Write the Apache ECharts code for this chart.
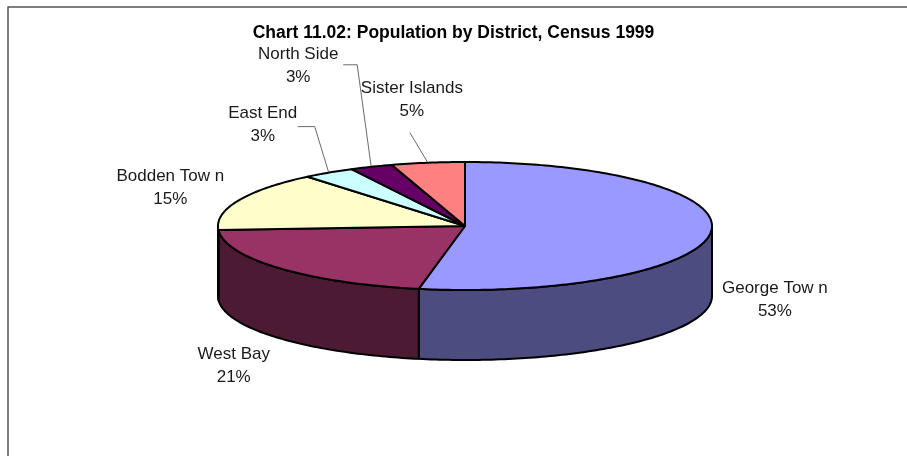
<!DOCTYPE html>
<html><head><meta charset="utf-8">
<script src="https://cdn.jsdelivr.net/npm/echarts@6/dist/echarts.min.js"></script>
<style>html,body{margin:0;padding:0;background:#fff}#c{width:907px;height:456px}</style>
</head><body><div id="c"></div>
<script>
// ---- data ----
const categories = ['George Tow n', 'West Bay', 'Bodden Tow n', 'East End', 'North Side', 'Sister Islands'];
const values = [53.0, 21.0, 15.0, 3.4, 2.8, 4.8];
const topColors = ['#9999FF', '#993366', '#FFFFCC', '#CCFFFF', '#660066', '#FF8080'];
const sideColors = ['#4C4C80', '#4D1A33', '#808066', '#668080', '#330033', '#804040'];
const titleText = 'Chart 11.02: Population by District, Census 1999';

// ---- layout (pixels) ----
const CX = 465, CY = 226, RX = 247, RY = 64, DEPTH = 70;
// label centre offsets from the slice's outer mid point
const labelOffsets = [[64, 33], [-46, 62], [-68, -13], [-66, -48], [-73, -101], [-16, -63]];
// leader line points relative to label centre (null = none)
const leaders = [null, null, null, [[52, 2], [35, 2]], [[59, -1], [45, -1]], [[-2, 33]]];

const total = values.reduce((a, b) => a + b, 0);
const cum = [];
values.reduce((acc, v, i) => { cum[i] = acc; return acc + v; }, 0);

function pt(deg, dy) {
  const r = deg * Math.PI / 180;
  return [CX + RX * Math.sin(r), CY - RY * Math.cos(r) + (dy || 0)];
}
function arc(a, b, dy) {
  const pts = [];
  const n = Math.max(2, Math.ceil(Math.abs(b - a)));
  for (let k = 0; k <= n; k++) pts.push(pt(a + (b - a) * k / n, dy));
  return pts;
}

function renderItem(params, api) {
  const i = params.dataIndex;
  const v = api.value(0);
  const a = cum[i] / total * 360;
  const b = (cum[i] + v) / total * 360;
  const children = [];
  const sa = Math.max(a, 90), sb = Math.min(b, 270);
  if (sb > sa) {
    const top = arc(sa, sb, 0);
    const bot = arc(sb, sa, DEPTH);
    children.push({
      type: 'polygon', z2: 1,
      shape: { points: top.concat(bot) },
      style: { fill: sideColors[i], stroke: '#000', lineWidth: 2, lineJoin: 'round' }
    });
  }
  children.push({
    type: 'polygon', z2: 2,
    shape: { points: [[CX, CY]].concat(arc(a, b, 0)) },
    style: { fill: topColors[i], stroke: '#000', lineWidth: 2, lineJoin: 'round' }
  });
  const mid = (a + b) / 2;
  const front = mid > 90 && mid < 270;
  const anchor = pt(mid, front ? DEPTH / 2 : 0);
  const lx = anchor[0] + labelOffsets[i][0], ly = anchor[1] + labelOffsets[i][1];
  const font = '17px "Liberation Sans", Arial, sans-serif';
  children.push({ type: 'text', z2: 5, style: { text: categories[i], x: lx, y: ly - 11.5, textAlign: 'center', textVerticalAlign: 'middle', font: font, fill: '#1a1a1a' } });
  children.push({ type: 'text', z2: 5, style: { text: Math.round(v / total * 100) + '%', x: lx, y: ly + 11.5, textAlign: 'center', textVerticalAlign: 'middle', font: font, fill: '#1a1a1a' } });
  if (leaders[i]) {
    const p = [anchor].concat(leaders[i].map(o => [lx + o[0], ly + o[1]]));
    children.push({ type: 'polyline', z2: 4, shape: { points: p }, style: { stroke: '#444', lineWidth: 0.8, fill: null } });
  }
  return { type: 'group', children: children };
}

const chart = echarts.init(document.getElementById('c'), null, { renderer: 'canvas' });
chart.setOption({
  backgroundColor: '#fff',
  animation: false,
  title: {
    text: titleText, left: 'center', top: 19,
    textStyle: { fontFamily: '"Liberation Sans", Arial, sans-serif', fontSize: 17.5, fontWeight: 'bold', color: '#000' }
  },
  graphic: [{
    type: 'rect', z: -1,
    shape: { x: 8, y: 7, width: 1000, height: 1000 },
    style: { fill: null, stroke: '#555', lineWidth: 1.5 }
  }],
  series: [{
    type: 'custom',
    coordinateSystem: 'none',
    renderItem: renderItem,
    data: values.map((v, i) => ({ name: categories[i], value: [v] }))
  }]
});
</script></body></html>
